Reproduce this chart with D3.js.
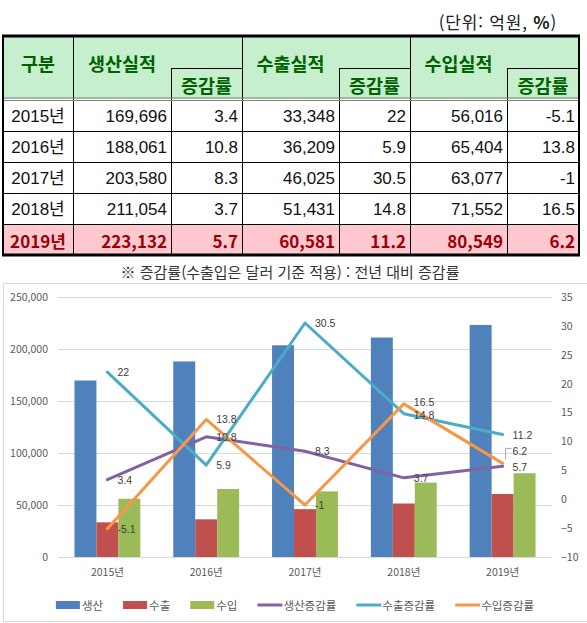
<!DOCTYPE html>
<html lang="ko">
<head>
<meta charset="utf-8">
<script src="https://cdn.jsdelivr.net/npm/d3@7"></script>
<style>
  html, body { margin: 0; padding: 0; background: #fff; }
  svg { display: block; }
</style>
</head>
<body>
<svg id="root" width="587" height="623"></svg>
<script>
// ---- data (단위: 억원, %) ----
const years = ["2015년", "2016년", "2017년", "2018년", "2019년"];
const production = [169696, 188061, 203580, 211054, 223132];
const productionRate = [3.4, 10.8, 8.3, 3.7, 5.7];
const exportVal = [33348, 36209, 46025, 51431, 60581];
const exportRate = [22, 5.9, 30.5, 14.8, 11.2];
const importVal = [56016, 65404, 63077, 71552, 80549];
const importRate = [-5.1, 13.8, -1, 16.5, 6.2];

const leftTicks = [0, 50000, 100000, 150000, 200000, 250000];
const rightTicks = [-10, -5, 0, 5, 10, 15, 20, 25, 30, 35];

const barSeries = [
  { name: "생산", values: production, color: "#4f81bd" },
  { name: "수출", values: exportVal, color: "#c0504d" },
  { name: "수입", values: importVal, color: "#9bbb59" }
];
const lineSeries = [
  { name: "생산증감률", values: productionRate, color: "#8064a2" },
  { name: "수출증감률", values: exportRate, color: "#4bacc6" },
  { name: "수입증감률", values: importRate, color: "#f79646" }
];

const svg = d3.select("#root");
const fmt = d3.format(",");
const krFont = "'Noto Sans CJK KR', 'Noto Sans', sans-serif";
const numFont = "'Liberation Sans', Arial, 'Noto Sans CJK KR', sans-serif";

// ================= 표 (table) =================
const colX = [3, 73, 171, 242, 339, 410, 507, 579];
const headTop = 36, headMid = 68, headBot = 99;
const rowY = [99, 131, 162, 193, 224, 255];

const table = svg.append("g").attr("class", "table");

// 배경
table.append("rect")
  .attr("x", colX[0]).attr("y", headTop)
  .attr("width", colX[7] - colX[0]).attr("height", headBot - headTop)
  .attr("fill", "#c6efce");
table.append("rect")
  .attr("x", colX[0]).attr("y", rowY[4])
  .attr("width", colX[7] - colX[0]).attr("height", rowY[5] - rowY[4])
  .attr("fill", "#ffc7ce");

// 세로선 (증감률 칸 왼쪽 선은 헤더 중간부터)
colX.slice(1, 7).forEach((x, i) => {
  const yStart = (i % 2 === 0) ? headTop : headMid;
  table.append("line")
    .attr("x1", x + 0.5).attr("x2", x + 0.5)
    .attr("y1", yStart).attr("y2", rowY[5])
    .attr("stroke", "#000").attr("stroke-width", 1);
});

// 헤더 안 가로선 (증감률 칸 위)
[2, 4, 6].forEach(c => {
  table.append("line")
    .attr("x1", colX[c]).attr("x2", colX[c + 1])
    .attr("y1", headMid + 0.5).attr("y2", headMid + 0.5)
    .attr("stroke", "#000");
});

// 행 구분선
rowY.slice(1, 5).forEach(y => {
  table.append("line")
    .attr("x1", colX[0]).attr("x2", colX[7])
    .attr("y1", y + 0.5).attr("y2", y + 0.5)
    .attr("stroke", "#000");
});

// 헤더 아래 이중선
[headBot - 1, headBot + 1.5].forEach(y => {
  table.append("line")
    .attr("x1", colX[0]).attr("x2", colX[7])
    .attr("y1", y).attr("y2", y)
    .attr("stroke", "#7f7f7f").attr("stroke-width", 1.2);
});

// 바깥 테두리
table.append("line").attr("x1", colX[0] - 1).attr("x2", colX[7] + 1)
  .attr("y1", headTop).attr("y2", headTop).attr("stroke", "#000").attr("stroke-width", 3);
table.append("line").attr("x1", colX[0] - 1).attr("x2", colX[7] + 1)
  .attr("y1", rowY[5]).attr("y2", rowY[5]).attr("stroke", "#000").attr("stroke-width", 3);
table.append("line").attr("x1", colX[0]).attr("x2", colX[0])
  .attr("y1", headTop).attr("y2", rowY[5]).attr("stroke", "#000").attr("stroke-width", 2);
table.append("line").attr("x1", colX[7]).attr("x2", colX[7])
  .attr("y1", headTop).attr("y2", rowY[5]).attr("stroke", "#000").attr("stroke-width", 2);

// 헤더 텍스트
const headText = (txt, cx, cy) => table.append("text")
  .attr("x", cx).attr("y", cy)
  .attr("text-anchor", "middle").attr("dominant-baseline", "central")
  .style("font-family", krFont).style("font-weight", 700)
  .style("font-size", "18.5px").style("fill", "#006100")
  .text(txt);

headText("구분", (colX[0] + colX[1]) / 2, 63);
["생산실적", "수출실적", "수입실적"].forEach((t, i) => {
  const c = 1 + i * 2;
  headText(t, (colX[c] + colX[c + 1]) / 2, 63);
  headText("증감률", (colX[c + 1] + colX[c + 2]) / 2, 85);
});

// 데이터 행
const rows = years.map((y, i) => [
  y, fmt(production[i]), productionRate[i], fmt(exportVal[i]), exportRate[i],
  fmt(importVal[i]), importRate[i]
]);

rows.forEach((r, i) => {
  const cy = (rowY[i] + rowY[i + 1]) / 2 + 1;
  const last = i === rows.length - 1;
  r.forEach((v, c) => {
    table.append("text")
      .attr("x", c === 0 ? (colX[0] + colX[1]) / 2 : colX[c + 1] - 4)
      .attr("y", cy)
      .attr("text-anchor", c === 0 ? "middle" : "end")
      .attr("dominant-baseline", "central")
      .style("font-family", last ? krFont : numFont)
      .style("font-weight", last ? 700 : 400)
      .style("font-size", "17px")
      .style("fill", last ? "#9c0006" : "#111")
      .text(v);
  });
});

// 단위 / 주석
svg.append("text")
  .attr("x", 557).attr("y", 21)
  .attr("text-anchor", "end").attr("dominant-baseline", "central")
  .style("font-family", krFont).style("font-size", "17px").style("fill", "#222")
  .style("letter-spacing", "0.8px")
  .html("(단위: 억원, <tspan style='font-weight:700'>%</tspan>)");

svg.append("text")
  .attr("x", 290).attr("y", 271)
  .attr("text-anchor", "middle").attr("dominant-baseline", "central")
  .style("font-family", krFont).style("font-size", "15px").style("fill", "#333")
  .text("※ 증감률(수출입은 달러 기준 적용) : 전년 대비 증감률");

// ================= 차트 =================
svg.append("rect")
  .attr("x", 3.5).attr("y", 283.5).attr("width", 590).attr("height", 338)
  .attr("fill", "#fff").attr("stroke", "#d9d9d9");

const plot = { left: 58, right: 552, top: 297, bottom: 557 };

const xScale = d3.scaleBand().domain(years).range([plot.left, plot.right]).padding(0);
const yLeft = d3.scaleLinear().domain([0, 250000]).range([plot.bottom, plot.top]);
const yRight = d3.scaleLinear().domain([-10, 35]).range([plot.bottom, plot.top]);

const groupW = xScale.bandwidth() / 1.5;
const xInner = d3.scaleBand().domain(barSeries.map(d => d.name)).range([0, groupW]).padding(0);

const chart = svg.append("g").attr("class", "chart");

// 격자선
chart.selectAll(".grid")
  .data(leftTicks)
  .enter()
  .append("line")
  .attr("class", "grid")
  .attr("x1", plot.left).attr("x2", plot.right)
  .attr("y1", d => Math.round(yLeft(d)) + 0.5).attr("y2", d => Math.round(yLeft(d)) + 0.5)
  .attr("stroke", "#d9d9d9").attr("stroke-width", 1);

// 왼쪽 축
const axisLeft = d3.axisLeft(yLeft).tickValues(leftTicks).tickFormat(fmt).tickSize(0).tickPadding(10);
chart.append("g")
  .attr("transform", `translate(${plot.left},0)`)
  .call(axisLeft)
  .call(g => g.select(".domain").remove())
  .selectAll("text")
  .style("font-family", krFont).style("font-size", "10.5px").style("fill", "#595959");

// 오른쪽 축
const axisRight = d3.axisRight(yRight).tickValues(rightTicks).tickSize(0).tickPadding(9);
chart.append("g")
  .attr("transform", `translate(${plot.right},0)`)
  .call(axisRight)
  .call(g => g.select(".domain").remove())
  .selectAll("text")
  .style("font-family", krFont).style("font-size", "10.5px").style("fill", "#595959");

// x 축
const axisBottom = d3.axisBottom(xScale).tickSize(0).tickPadding(12);
chart.append("g")
  .attr("transform", `translate(0,${plot.bottom})`)
  .call(axisBottom)
  .call(g => g.select(".domain").remove())
  .selectAll("text")
  .style("font-family", krFont).style("font-size", "10.5px").style("fill", "#595959");

// 막대
barSeries.forEach(s => {
  chart.selectAll(".bar-" + s.name)
    .data(s.values)
    .enter()
    .append("rect")
    .attr("x", (d, i) => xScale(years[i]) + (xScale.bandwidth() - groupW) / 2 + xInner(s.name))
    .attr("y", d => yLeft(d))
    .attr("width", xInner.bandwidth())
    .attr("height", d => plot.bottom - yLeft(d))
    .style("fill", s.color);
});

// 꺾은선
const cx = i => xScale(years[i]) + xScale.bandwidth() / 2;
const line = d3.line()
  .x((d, i) => cx(i))
  .y(d => yRight(d));

lineSeries.forEach(s => {
  chart.append("path")
    .datum(s.values)
    .attr("d", line)
    .attr("fill", "none")
    .attr("stroke", s.color)
    .attr("stroke-width", 3)
    .attr("stroke-linejoin", "round")
    .attr("stroke-linecap", "round");
});

// 데이터 레이블 (오른쪽) - 겹치는 레이블만 살짝 이동
const labelShift = {
  "수출증감률-3": 1.5, "수입증감률-3": -1.5,
  "수입증감률-4": -12, "생산증감률-4": 1
};
lineSeries.forEach(s => {
  s.values.forEach((v, i) => {
    const shift = labelShift[s.name + "-" + i] || 0;
    const ly = yRight(v) + shift;
    // 2019 수입증감률 레이블은 위로 올리고 지시선 표시
    if (shift < -5) {
      chart.append("path")
        .attr("d", `M${cx(i) + 3},${yRight(v) - 4}V${ly - 3}H${cx(i) + 9}`)
        .attr("fill", "none").attr("stroke", "#a6a6a6").attr("stroke-width", 1);
    }
    chart.append("text")
      .attr("x", cx(i) + 10)
      .attr("y", ly)
      .attr("dominant-baseline", "central")
      .style("font-family", numFont).style("font-size", "10.5px").style("fill", "#404040")
      .text(v);
  });
});

// 범례
const legendItems = [
  ...barSeries.map(d => ({ ...d, type: "bar" })),
  ...lineSeries.map(d => ({ ...d, type: "line" }))
];
const legend = svg.append("g").attr("class", "legend");
const legendY = 605;
let lx = 0;
legendItems.forEach(d => {
  const g = legend.append("g").attr("transform", `translate(${lx},0)`);
  if (d.type === "bar") {
    g.append("rect").attr("x", 0).attr("y", legendY - 4).attr("width", 24).attr("height", 8)
      .style("fill", d.color);
  } else {
    g.append("line").attr("x1", 0).attr("x2", 25).attr("y1", legendY).attr("y2", legendY)
      .attr("stroke", d.color).attr("stroke-width", 3);
  }
  const t = g.append("text")
    .attr("x", 26).attr("y", legendY)
    .attr("dominant-baseline", "central")
    .style("font-family", krFont).style("font-size", "11.5px").style("fill", "#595959")
    .text(d.name);
  lx += 26 + t.node().getComputedTextLength() + 20;
});
const legendW = lx - 20;
legend.attr("transform", `translate(${295 - legendW / 2},0)`);
</script>
</body>
</html>
